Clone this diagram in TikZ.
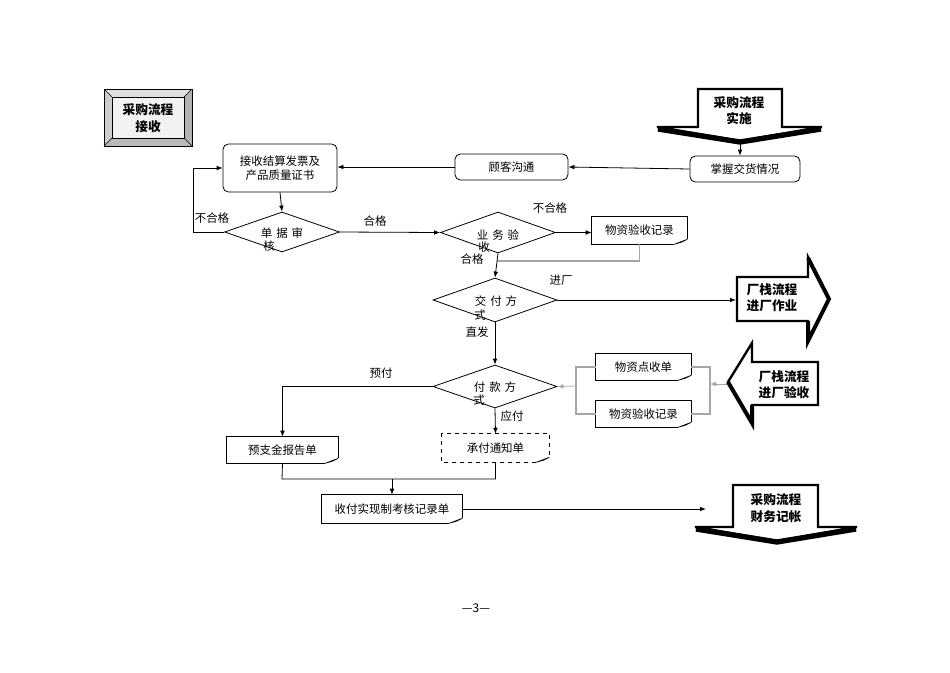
\documentclass[tikz,border=0pt]{standalone}
\usepackage{fontspec}
\setmainfont{Noto Sans CJK SC}
\usetikzlibrary{shapes.geometric,arrows.meta,calc}

\newcommand{\docframe}[2][]{%
  \draw[line width=0.6pt,#1] ($(#2.south east)+(-13,0)$) -- (#2.south west) -- (#2.north west) -- (#2.north east) -- ($(#2.south east)+(0,-5)$);
  \filldraw[line width=0.5pt,fill=gray!50] ($(#2.south east)+(-13,0)$) -- ($(#2.south east)+(0,-5)$) -- ($(#2.south east)+(-6,-2)$) -- cycle;
}

\begin{document}
\begin{tikzpicture}[x=0.75pt,y=-0.75pt,
  font=\fontsize{8.6pt}{11pt}\selectfont,
  arr/.style={-{Latex[length=4.5pt,width=3.5pt]}, line width=0.6pt},
  ln/.style={line width=0.6pt},
  gln/.style={line width=0.8pt, draw=gray!70},
  rbox/.style={draw, rounded corners=4pt, line width=0.6pt, inner sep=0pt, align=center},
  dia/.style={draw, diamond, inner sep=0pt, line width=0.6pt},
  docbox/.style={inner sep=0pt},
  lbl/.style={inner sep=1pt},
  boldtxt/.style={font=\fontsize{9.5pt}{12pt}\selectfont\bfseries, inner sep=0pt},
  bigarrow/.style={draw, line width=1.8pt, fill=white, line join=miter}
]
\useasboundingbox (0,0) rectangle (950,672);

% ---------- bevel box ----------
\fill[gray!25] (104,89) -- (192,89) -- (184,97) -- (112,97) -- cycle;
\fill[gray!40] (104,89) -- (112,97) -- (112,138) -- (104,146) -- cycle;
\fill[gray!60] (192,89) -- (192,146) -- (184,138) -- (184,97) -- cycle;
\fill[gray!55] (104,146) -- (112,138) -- (184,138) -- (192,146) -- cycle;
\fill[gray!10] (112,97) rectangle (184,138);
\draw[line width=0.7pt] (104,89) rectangle (192,146);
\draw[line width=0.6pt] (112,97) rectangle (184,138);
\draw[line width=0.5pt] (104,89) -- (112,97) (192,89) -- (184,97) (104,146) -- (112,138) (192,146) -- (184,138);
\node[boldtxt] (t0a) at (148,110) {采购流程};
\node[boldtxt] (t0b) at (148,127) {接收};

% ---------- big arrows ----------
% A1 down arrow (实施)
\draw[bigarrow] (698,89) -- (782,89) -- (782,127) -- (822,127) -- (740,141) -- (657,127) -- (698,127) -- cycle;
\draw[line width=4pt] (658,129) -- (740,142) -- (821,129);
\coordinate (a1tip) at (740,144);
\node[boldtxt] (t1a) at (739,103) {采购流程};
\node[boldtxt] (t1b) at (739,119) {实施};

% A2 right arrow (进厂作业)
\draw[bigarrow] (737,277) -- (808,277) -- (808,257) -- (829,299) -- (808,341) -- (808,321) -- (737,321) -- cycle;
\draw[line width=3pt] (808,258) -- (829,299) -- (808,341) -- (808,321);
\coordinate (a2tail) at (736,300);
\node[boldtxt] (t2a) at (772,290) {厂栈流程};
\node[boldtxt] (t2b) at (772,306) {进厂作业};

% A3 left arrow (进厂验收)
\draw[bigarrow] (818,362) -- (752,362) -- (752,343) -- (728,382) -- (752,423) -- (752,405) -- (818,405) -- cycle;
\draw[line width=3pt] (728,382) -- (752,423) -- (752,405);
\coordinate (a3tip) at (727,384);
\node[boldtxt] (t3a) at (784,377) {厂栈流程};
\node[boldtxt] (t3b) at (784,393) {进厂验收};

% A4 down arrow (财务记帐)
\draw[bigarrow] (733,485) -- (818,485) -- (818,527) -- (857,527) -- (777,541) -- (695,527) -- (733,527) -- cycle;
\draw[line width=4pt] (696,529) -- (777,542) -- (856,529);
\coordinate (a4in) at (706,509);
\node[boldtxt] (t4a) at (776,500) {采购流程};
\node[boldtxt] (t4b) at (776,517) {财务记帐};

% ---------- process boxes ----------
\node[rbox, minimum width=85.5pt, minimum height=36pt] (recv) at (280,168) {接收结算发票及\\产品质量证书};
\node[rbox, minimum width=84.75pt, minimum height=19.5pt] (comm) at (511.5,167) {顾客沟通};
\node[rbox, minimum width=82.5pt, minimum height=19.5pt] (grasp) at (745,169) {掌握交货情况};

% diamonds
\node[dia, minimum width=86.25pt, minimum height=30pt] (d1) at (282,232) {};
\node[dia, minimum width=86.25pt, minimum height=30.75pt] (d2) at (498,232.5) {};
\node[dia, minimum width=93pt, minimum height=33pt] (d3) at (495,300) {};
\node[dia, minimum width=93pt, minimum height=32.25pt] (d4) at (495,386.5) {};

\node[lbl] (d1t) at (282,233) {单\,\,据\,\,审};
\node[lbl] (d1u) at (269,246) {核};
\node[lbl] (d2t) at (498,235) {业\,\,务\,\,验};
\node[lbl] (d2u) at (484,247) {收};
\node[lbl] (d3t) at (496,301) {交\,\,付\,\,方};
\node[lbl] (d3u) at (480,315) {式};
\node[lbl] (d4t) at (495,387) {付\,\,款\,\,方};
\node[lbl] (d4u) at (479,400) {式};

% documents
\node[docbox, minimum width=71.25pt, minimum height=20.25pt] (rec1) at (639.5,230.5) {物资验收记录};
\node[docbox, minimum width=71.25pt, minimum height=19.5pt] (rec2) at (643.5,367) {物资点收单};
\node[docbox, minimum width=71.25pt, minimum height=19.5pt] (rec3) at (643.5,414) {物资验收记录};
\node[docbox, minimum width=83.25pt, minimum height=19.5pt] (adv) at (282.5,450) {预支金报告单};
\node[docbox, minimum width=80.25pt, minimum height=21pt] (notice) at (495.5,448) {承付通知单};
\node[docbox, minimum width=105pt, minimum height=21pt] (final) at (392,509) {收付实现制考核记录单};
\docframe{rec1}
\docframe{rec2}
\docframe{rec3}
\docframe{adv}
\docframe[dashed]{notice}
\docframe{final}

% ---------- connectors ----------
\draw[arr] (a1tip) -- (a1tip |- grasp.north);
\draw[arr] (grasp.west) -- (comm.east);
\draw[arr] (comm.west) -- (comm.west -| recv.east);
\draw[arr] (recv.south) -- (d1.north);
\coordinate (loopx) at (193,232);
\draw[arr] (d1.west) -- (loopx) |- (recv.west);
\draw[arr] (d1.east) -- (d2.west);
\draw[arr] (d2.east) -- (d2.east -| rec1.west);
\coordinate (ret1) at (497,261);
\draw[gln] (rec1.south) |- (ret1);
\draw[arr] (d2.south) -- (d3.north);
\draw[arr] (d3.east) -- (a2tail);
\draw[arr] (d3.south) -- (d4.north);
\draw[arr] (d4.west) -| (adv.north);
\draw[arr] (d4.south) -- (notice.north);
\coordinate (mergeL) at (282,479);
\coordinate (mergeM) at (392,479);
\draw[ln] (adv.south) -- (mergeL) -| (notice.south);
\draw[arr] (mergeM) -- (final.north);
\draw[arr] (final.east) -- (a4in);

\coordinate (jr) at (710,384);
\coordinate (jl) at (576,386);
\draw[arr, draw=gray!70] (a3tip) -- (jr);
\draw[gln] (rec2.east) -| (710,414) -- (rec3.east);
\draw[gln] (rec2.west) -| (576,414) -- (rec3.west);
\draw[arr, draw=gray!70] (jl) -- (d4.east);

% ---------- labels ----------
\node[lbl] (l1) at (212,218) {不合格};
\node[lbl] (l2) at (375,221) {合格};
\node[lbl] (l3) at (550,208) {不合格};
\node[lbl] (l4) at (472,259) {合格};
\node[lbl] (l5) at (561,280) {进厂};
\node[lbl] (l6) at (477,332) {直发};
\node[lbl] (l7) at (381,373) {预付};
\node[lbl] (l8) at (512,416) {应付};
\node[lbl, font=\fontsize{9pt}{11pt}\selectfont] (pg) at (476,608) {—3—};
\end{tikzpicture}
\end{document}
